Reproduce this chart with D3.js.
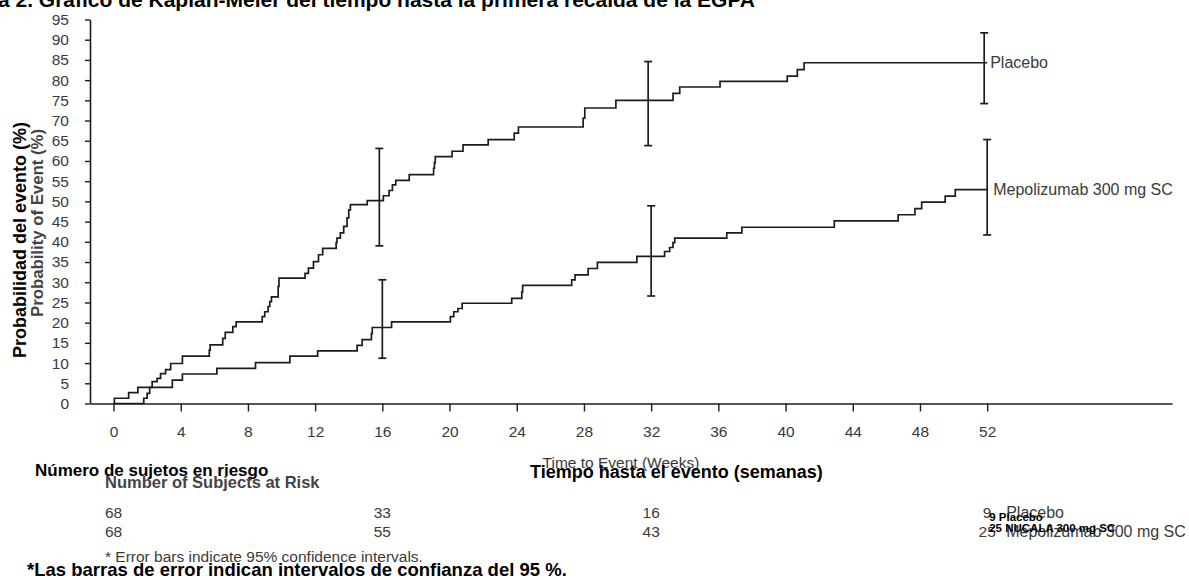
<!DOCTYPE html>
<html>
<head>
<meta charset="utf-8">
<script src="https://cdn.jsdelivr.net/npm/d3@7/dist/d3.min.js"></script>
<style>
  body { margin: 0; background: #fff; }
  svg { display: block; font-family: "Liberation Sans", Arial, sans-serif; }
</style>
</head>
<body>
<svg id="chart" width="1189" height="580"></svg>
<script>
// ---- data ----
const weekTicks = [0, 4, 8, 12, 16, 20, 24, 28, 32, 36, 40, 44, 48, 52];
const pctTicks = [0, 5, 10, 15, 20, 25, 30, 35, 40, 45, 50, 55, 60, 65, 70, 75, 80, 85, 90, 95];

// Kaplan-Meier steps: week of event, cumulative probability (%) after it
const placeboWeeks = [0, 1.8, 2.0, 2.15, 2.3, 2.6, 2.8, 3.1, 3.4, 4.1, 5.7, 5.75, 6.5, 6.65, 7.1, 7.3,
  8.85, 9.0, 9.2, 9.3, 9.4, 9.8, 9.85, 11.4, 11.6, 11.9, 12.2, 12.45, 13.25, 13.3, 13.5, 13.7, 13.9,
  14.0, 14.1, 15.1, 16.06, 16.4, 16.6, 16.8, 17.6, 19.05, 19.1, 19.15, 20.15, 20.8, 22.3, 23.85,
  24.1, 27.95, 28.05, 29.9, 33.3, 33.7, 36.1, 40.1, 40.7, 41.1];
const placeboPct = [0, 1.3, 2.5, 4.0, 5.4, 6.2, 7.4, 8.4, 9.9, 11.7, 13.2, 14.5, 16.1, 17.6, 19.0, 20.2,
  21.5, 22.7, 24.0, 25.2, 26.4, 29.0, 31.0, 32.2, 33.5, 35.1, 36.8, 38.4, 39.8, 40.9, 42.2, 43.8, 45.9,
  47.9, 49.2, 50.2, 51.4, 52.7, 54.1, 55.2, 56.6, 58.2, 59.6, 61.1, 62.4, 64.0, 65.3, 66.9,
  68.4, 70.6, 73.1, 75.0, 76.7, 78.3, 79.7, 81.0, 82.6, 84.3];

const mepoWeeks = [0, 0.05, 0.9, 1.45, 3.5, 4.1, 6.15, 8.45, 10.5, 12.15, 14.5, 14.8, 15.35, 15.4, 16.55,
  20.05, 20.25, 20.5, 20.75, 23.7, 24.3, 24.35, 27.27, 27.47, 28.25, 28.8, 31.15, 32.8, 33.1, 33.3, 33.4,
  36.5, 37.4, 42.9, 46.7, 47.7, 48.1, 49.5, 50.1];
const mepoPct = [0, 1.3, 2.7, 4.0, 5.8, 7.3, 8.7, 10.1, 11.7, 13.0, 14.4, 15.8, 17.3, 18.8, 20.2,
  21.5, 22.7, 23.5, 24.8, 26.0, 27.6, 29.2, 30.6, 31.8, 33.4, 34.9, 36.4, 37.6, 38.6, 39.8, 40.9,
  42.2, 43.6, 45.2, 46.7, 48.2, 49.8, 51.3, 52.9];

// 95% confidence intervals
const ciWeeks = [16, 32, 52];
const placeboLow = [39.0, 63.8, 74.2];
const placeboHigh = [63.1, 84.6, 91.7];
const mepoLow = [11.2, 26.6, 41.7];
const mepoHigh = [30.6, 48.9, 65.3];

// number at risk
const riskWeeks = [0, 16, 32, 52];
const placeboRisk = [68, 33, 16, 9];
const mepoRisk = [68, 55, 43, 25];

const lastWeek = 52;

// ---- drawing ----
const svg = d3.select("#chart");
svg.append("rect").attr("width", 1189).attr("height", 580).attr("fill", "#fff");

const x = d3.scaleLinear().domain([-1.4, 63]).range([90, 1172]);
const y = d3.scaleLinear().domain([0, 95]).range([403.5, 19.5]);

const ink = "#1c1c1c";
const gray = "#3a3a3a";

// title, cut off by the top edge
const title = svg.append("text")
  .attr("y", 7)
  .attr("font-size", 21)
  .attr("font-weight", "bold")
  .attr("fill", "#000")
  .text("Figura 2. Gráfico de Kaplan-Meier del tiempo hasta la primera recaída de la EGPA");
const probe = svg.append("text").attr("font-size", 21).attr("font-weight", "bold").text("Figura 2. ");
const lead = probe.node().getComputedTextLength();
probe.remove();
title.attr("x", 33 - lead);

// axes
const yAxis = d3.axisLeft(y).tickValues(pctTicks).tickSize(5).tickSizeOuter(0).tickPadding(16);
const xAxis = d3.axisBottom(x).tickValues(weekTicks).tickSize(8).tickSizeOuter(0).tickPadding(14);

const gy = svg.append("g").attr("transform", "translate(90,0)").call(yAxis);
const gx = svg.append("g").attr("transform", "translate(0,403.5)").call(xAxis);
[gx, gy].forEach(g => {
  g.select(".domain").attr("stroke", ink).attr("stroke-width", 1.6);
  g.selectAll(".tick line").attr("stroke", ink).attr("stroke-width", 1.4);
  g.selectAll(".tick text").attr("fill", gray).attr("font-size", 15.5)
    .attr("font-family", "Liberation Sans, Arial, sans-serif");
});

// step curves
const step = d3.line()
  .x(d => x(d[0]))
  .y(d => y(d[1]))
  .curve(d3.curveStepAfter);

function curvePoints(weeks, pct) {
  const pts = weeks.map((w, i) => [w, pct[i]]);
  pts.push([lastWeek, pct[pct.length - 1]]);
  return pts;
}

const series = [
  { name: "placebo", weeks: placeboWeeks, pct: placeboPct, low: placeboLow, high: placeboHigh, dodge: -3 },
  { name: "mepo", weeks: mepoWeeks, pct: mepoPct, low: mepoLow, high: mepoHigh, dodge: 0 }
];

series.forEach(s => {
  svg.append("path")
    .datum(curvePoints(s.weeks, s.pct))
    .attr("fill", "none")
    .attr("stroke", ink)
    .attr("stroke-width", 1.7)
    .attr("d", step);

  const bars = svg.append("g").selectAll("g")
    .data(ciWeeks.map((w, i) => ({ week: w, low: s.low[i], high: s.high[i] })))
    .join("g")
    .attr("transform", d => `translate(${x(d.week) + s.dodge},0)`);
  bars.append("line")
    .attr("y1", d => y(d.low)).attr("y2", d => y(d.high))
    .attr("stroke", ink).attr("stroke-width", 1.7);
  bars.append("line")
    .attr("x1", -4).attr("x2", 4)
    .attr("y1", d => y(d.high)).attr("y2", d => y(d.high))
    .attr("stroke", ink).attr("stroke-width", 1.7);
  bars.append("line")
    .attr("x1", -4).attr("x2", 4)
    .attr("y1", d => y(d.low)).attr("y2", d => y(d.low))
    .attr("stroke", ink).attr("stroke-width", 1.7);
});

// end-of-curve labels
svg.append("text")
  .attr("x", x(lastWeek) + 3)
  .attr("y", y(placeboPct[placeboPct.length - 1]) + 5.5)
  .attr("font-size", 16).attr("fill", gray)
  .text("Placebo");
svg.append("text")
  .attr("x", x(lastWeek) + 6)
  .attr("y", y(mepoPct[mepoPct.length - 1]) + 5.5)
  .attr("font-size", 16).attr("fill", gray)
  .text("Mepolizumab 300 mg SC");

// y axis titles (Spanish over English)
svg.append("text")
  .attr("transform", "translate(43,223) rotate(-90)")
  .attr("text-anchor", "middle")
  .attr("font-size", 16).attr("font-weight", "bold").attr("fill", "#444")
  .attr("textLength", 188).attr("lengthAdjust", "spacingAndGlyphs")
  .text("Probability of Event (%)");
svg.append("text")
  .attr("transform", "translate(26,240) rotate(-90)")
  .attr("text-anchor", "middle")
  .attr("font-size", 18).attr("font-weight", "bold").attr("fill", "#000")
  .text("Probabilidad del evento (%)");

// x axis titles
svg.append("text")
  .attr("x", 621).attr("y", 468)
  .attr("text-anchor", "middle")
  .attr("font-size", 15.5).attr("fill", gray)
  .text("Time to Event (Weeks)");
svg.append("text")
  .attr("x", 530).attr("y", 478)
  .attr("font-size", 18).attr("font-weight", "bold").attr("fill", "#000")
  .text("Tiempo hasta el evento (semanas)");

// number at risk
svg.append("text")
  .attr("x", 105).attr("y", 488)
  .attr("font-size", 16.5).attr("font-weight", "bold").attr("fill", "#444")
  .text("Number of Subjects at Risk");
svg.append("text")
  .attr("x", 35).attr("y", 476)
  .attr("font-size", 17).attr("font-weight", "bold").attr("fill", "#000")
  .text("Número de sujetos en riesgo");

const riskRows = [
  { counts: placeboRisk, y: 518, en: "Placebo", es: "Placebo", esY: 521 },
  { counts: mepoRisk, y: 537, en: "Mepolizumab 300 mg SC", es: "NUCALA 300 mg SC", esY: 532 }
];
riskRows.forEach(r => {
  svg.append("g").selectAll("text")
    .data(riskWeeks.map((w, i) => ({ week: w, n: r.counts[i] })))
    .join("text")
    .attr("x", d => x(d.week))
    .attr("y", r.y)
    .attr("text-anchor", "middle")
    .attr("font-size", 15.5).attr("fill", gray)
    .text(d => d.n);
  svg.append("text")
    .attr("x", x(lastWeek) + 19).attr("y", r.y)
    .attr("font-size", 16).attr("fill", gray)
    .text(r.en);
  svg.append("text")
    .attr("x", x(lastWeek) + 2).attr("y", r.esY)
    .attr("font-size", 11.5).attr("font-weight", "bold").attr("fill", "#000")
    .text(r.counts[r.counts.length - 1] + " " + r.es);
});

// footnotes
svg.append("text")
  .attr("x", 105).attr("y", 562)
  .attr("font-size", 15.5).attr("fill", gray)
  .text("* Error bars indicate 95% confidence intervals.");
svg.append("text")
  .attr("x", 27).attr("y", 576)
  .attr("font-size", 18.5).attr("font-weight", "bold").attr("fill", "#000")
  .text("*Las barras de error indican intervalos de confianza del 95 %.");
</script>
</body>
</html>
